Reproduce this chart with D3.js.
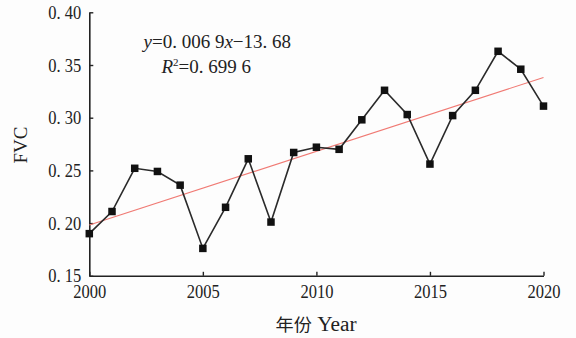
<!DOCTYPE html>
<html>
<head>
<meta charset="utf-8">
<script src="https://cdn.jsdelivr.net/npm/d3@7"></script>
<style>
body{margin:0;background:#fdfdfd;}
svg{display:block;background:#fdfdfd;}
text{font-family:"Liberation Serif","DejaVu Serif",serif;fill:#222;}
</style>
</head>
<body>
<svg width="576" height="338"></svg>
<script>
// data
var years = [2000,2001,2002,2003,2004,2005,2006,2007,2008,2009,2010,2011,2012,2013,2014,2015,2016,2017,2018,2019,2020];
var fvc = [0.190,0.211,0.252,0.249,0.236,0.176,0.215,0.261,0.201,0.267,0.272,0.270,0.298,0.326,0.303,0.256,0.302,0.326,0.363,0.346,0.311];
var xTicks = [2000,2005,2010,2015,2020];
var yTicks = [0.15,0.20,0.25,0.30,0.35,0.40];
var yTickLabels = ['0. 15','0. 20','0. 25','0. 30','0. 35','0. 40'];

var svg = d3.select('svg');
var pLeft = 89.3, pRight = 543.5, pTop = 12.3, pBottom = 275.8;

var xscale = d3.scaleLinear().domain([2000,2020]).range([pLeft,pRight]);
var yscale = d3.scaleLinear().domain([0.15,0.40]).range([pBottom,pTop]);

// least squares trend
var mx = d3.mean(years), my = d3.mean(fvc);
var sxy = d3.sum(years,(x,i)=>(x-mx)*(fvc[i]-my));
var sxx = d3.sum(years,x=>(x-mx)*(x-mx));
var slope = sxy/sxx, icpt = my - slope*mx;

// axes
var xaxis = svg.append('g').attr('transform',`translate(0,${pBottom})`)
	.call(d3.axisBottom(xscale).tickValues(xTicks).tickFormat(d3.format('d')).tickSizeInner(-4).tickSizeOuter(0).tickPadding(9));
var yaxis = svg.append('g').attr('transform',`translate(${pLeft},0)`)
	.call(d3.axisLeft(yscale).tickValues(yTicks).tickFormat((d,i)=>yTickLabels[i]).tickSizeInner(-4).tickSizeOuter(0).tickPadding(8));

[xaxis,yaxis].forEach(a=>{
	a.select('.domain').attr('stroke','#222').attr('stroke-width',1.6);
	a.selectAll('.tick line').attr('stroke','#222').attr('stroke-width',1.4);
	a.selectAll('text').attr('font-family','"Liberation Serif",serif').attr('font-size',19).attr('fill','#222')
		.attr('textLength',33).attr('lengthAdjust','spacingAndGlyphs');
});

// trend line
svg.append('line')
	.attr('x1',xscale(2000)).attr('y1',yscale(slope*2000+icpt))
	.attr('x2',xscale(2020)).attr('y2',yscale(slope*2020+icpt))
	.attr('stroke','#f07a74').attr('stroke-width',1.1);

// data line
var line = d3.line().x((d,i)=>xscale(years[i])).y(d=>yscale(d));
svg.append('path').datum(fvc).attr('d',line)
	.attr('fill','none').attr('stroke','#2a2a2a').attr('stroke-width',1.6);

svg.append('g').selectAll('rect').data(fvc).enter().append('rect')
	.attr('x',(d,i)=>xscale(years[i])-3.75)
	.attr('y',d=>yscale(d)-3.75)
	.attr('width',7.5).attr('height',7.5)
	.attr('fill','#111');

// equation
var eq = svg.append('text').attr('x',143.5).attr('y',48).attr('font-size',19);
eq.append('tspan').attr('font-style','italic').text('y');
eq.append('tspan').text('=0. 006 9');
eq.append('tspan').attr('font-style','italic').text('x');
eq.append('tspan').text('−13. 68');

var r2 = svg.append('text').attr('x',161.5).attr('y',73).attr('font-size',19);
r2.append('tspan').attr('font-style','italic').text('R');
r2.append('tspan').attr('font-size',11).attr('dy',-7).text('2');
r2.append('tspan').attr('dy',7).text('=0. 699 6');

// axis titles
svg.append('text').attr('transform','translate(27,145) rotate(-90)')
	.attr('text-anchor','middle').attr('font-size',19).text('FVC');

var xt = svg.append('text').attr('x',316).attr('y',331).attr('text-anchor','middle').attr('font-size',20)
	.attr('textLength',81).attr('lengthAdjust','spacingAndGlyphs');
xt.append('tspan').attr('font-family','"Noto Sans CJK SC",sans-serif').attr('font-size',17).text('年份');
xt.append('tspan').text(' Year');
</script>
</body>
</html>
